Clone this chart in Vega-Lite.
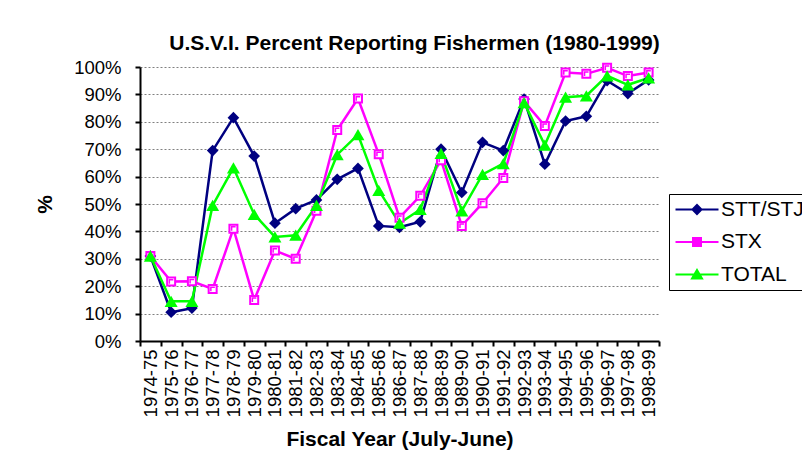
{
  "$schema": "https://vega.github.io/schema/vega-lite/v6.json",
  "width": 519,
  "height": 274,
  "autosize": {"type": "none"},
  "padding": {"left": 140, "top": 67, "right": 143, "bottom": 123},
  "background": "white",
  "config": {
    "font": "Liberation Sans",
    "view": {"stroke": null},
    "title": {"font": "Liberation Sans", "fontSize": 21, "fontWeight": "bold", "color": "black"}
  },
  "title": {"text": "U.S.V.I. Percent Reporting Fishermen (1980-1999)", "anchor": "middle", "dx": 15, "offset": 4},
  "datasets": {
    "d": [
      {"year": "1974-75", "series": "STT/STJ", "v": 0.31},
      {"year": "1975-76", "series": "STT/STJ", "v": 0.105},
      {"year": "1976-77", "series": "STT/STJ", "v": 0.12},
      {"year": "1977-78", "series": "STT/STJ", "v": 0.695},
      {"year": "1978-79", "series": "STT/STJ", "v": 0.815},
      {"year": "1979-80", "series": "STT/STJ", "v": 0.675},
      {"year": "1980-81", "series": "STT/STJ", "v": 0.43},
      {"year": "1981-82", "series": "STT/STJ", "v": 0.483},
      {"year": "1982-83", "series": "STT/STJ", "v": 0.515},
      {"year": "1983-84", "series": "STT/STJ", "v": 0.59},
      {"year": "1984-85", "series": "STT/STJ", "v": 0.63},
      {"year": "1985-86", "series": "STT/STJ", "v": 0.42},
      {"year": "1986-87", "series": "STT/STJ", "v": 0.415},
      {"year": "1987-88", "series": "STT/STJ", "v": 0.435},
      {"year": "1988-89", "series": "STT/STJ", "v": 0.70},
      {"year": "1989-90", "series": "STT/STJ", "v": 0.542},
      {"year": "1990-91", "series": "STT/STJ", "v": 0.725},
      {"year": "1991-92", "series": "STT/STJ", "v": 0.695},
      {"year": "1992-93", "series": "STT/STJ", "v": 0.883},
      {"year": "1993-94", "series": "STT/STJ", "v": 0.645},
      {"year": "1994-95", "series": "STT/STJ", "v": 0.803},
      {"year": "1995-96", "series": "STT/STJ", "v": 0.82},
      {"year": "1996-97", "series": "STT/STJ", "v": 0.95},
      {"year": "1997-98", "series": "STT/STJ", "v": 0.903},
      {"year": "1998-99", "series": "STT/STJ", "v": 0.953},
      {"year": "1974-75", "series": "STX", "v": 0.31},
      {"year": "1975-76", "series": "STX", "v": 0.217},
      {"year": "1976-77", "series": "STX", "v": 0.218},
      {"year": "1977-78", "series": "STX", "v": 0.19},
      {"year": "1978-79", "series": "STX", "v": 0.41},
      {"year": "1979-80", "series": "STX", "v": 0.15},
      {"year": "1980-81", "series": "STX", "v": 0.33},
      {"year": "1981-82", "series": "STX", "v": 0.30},
      {"year": "1982-83", "series": "STX", "v": 0.475},
      {"year": "1983-84", "series": "STX", "v": 0.77},
      {"year": "1984-85", "series": "STX", "v": 0.885},
      {"year": "1985-86", "series": "STX", "v": 0.682},
      {"year": "1986-87", "series": "STX", "v": 0.45},
      {"year": "1987-88", "series": "STX", "v": 0.53},
      {"year": "1988-89", "series": "STX", "v": 0.66},
      {"year": "1989-90", "series": "STX", "v": 0.42},
      {"year": "1990-91", "series": "STX", "v": 0.503},
      {"year": "1991-92", "series": "STX", "v": 0.595},
      {"year": "1992-93", "series": "STX", "v": 0.875},
      {"year": "1993-94", "series": "STX", "v": 0.785},
      {"year": "1994-95", "series": "STX", "v": 0.98},
      {"year": "1995-96", "series": "STX", "v": 0.975},
      {"year": "1996-97", "series": "STX", "v": 0.997},
      {"year": "1997-98", "series": "STX", "v": 0.967},
      {"year": "1998-99", "series": "STX", "v": 0.98},
      {"year": "1974-75", "series": "TOTAL", "v": 0.31},
      {"year": "1975-76", "series": "TOTAL", "v": 0.145},
      {"year": "1976-77", "series": "TOTAL", "v": 0.145},
      {"year": "1977-78", "series": "TOTAL", "v": 0.495},
      {"year": "1978-79", "series": "TOTAL", "v": 0.632},
      {"year": "1979-80", "series": "TOTAL", "v": 0.462},
      {"year": "1980-81", "series": "TOTAL", "v": 0.38},
      {"year": "1981-82", "series": "TOTAL", "v": 0.386},
      {"year": "1982-83", "series": "TOTAL", "v": 0.495},
      {"year": "1983-84", "series": "TOTAL", "v": 0.68},
      {"year": "1984-85", "series": "TOTAL", "v": 0.753},
      {"year": "1985-86", "series": "TOTAL", "v": 0.55},
      {"year": "1986-87", "series": "TOTAL", "v": 0.43},
      {"year": "1987-88", "series": "TOTAL", "v": 0.48},
      {"year": "1988-89", "series": "TOTAL", "v": 0.685},
      {"year": "1989-90", "series": "TOTAL", "v": 0.475},
      {"year": "1990-91", "series": "TOTAL", "v": 0.608},
      {"year": "1991-92", "series": "TOTAL", "v": 0.647},
      {"year": "1992-93", "series": "TOTAL", "v": 0.87},
      {"year": "1993-94", "series": "TOTAL", "v": 0.715},
      {"year": "1994-95", "series": "TOTAL", "v": 0.89},
      {"year": "1995-96", "series": "TOTAL", "v": 0.895},
      {"year": "1996-97", "series": "TOTAL", "v": 0.968},
      {"year": "1997-98", "series": "TOTAL", "v": 0.935},
      {"year": "1998-99", "series": "TOTAL", "v": 0.96}
    ]
  },
  "data": {"name": "d"},
  "encoding": {
    "x": {
      "field": "year", "type": "ordinal", "bandPosition": 0.5,
      "scale": {"type": "band", "paddingInner": 0, "paddingOuter": 0},
      "axis": {
        "title": "Fiscal Year (July-June)", "titleFontSize": 21, "titleFontWeight": "bold", "titleColor": "black", "titlePadding": 12,
        "labelAngle": 270, "labelFontSize": 18.5, "labelColor": "black", "labelPadding": 3,
        "domainColor": "black", "domainWidth": 2, "tickColor": "black", "tickWidth": 2, "tickSize": 5,
        "tickBand": "extent", "grid": false, "labelOverlap": false
      }
    },
    "y": {
      "field": "v", "type": "quantitative",
      "scale": {"domain": [0, 1], "nice": false},
      "axis": {
        "values": [0, 0.1, 0.2, 0.3, 0.4, 0.5, 0.6, 0.7, 0.8, 0.9, 1.0], "format": ".0%",
        "title": "%", "titleFontSize": 21, "titleFontWeight": "bold", "titleColor": "black", "titlePadding": 18,
        "labelFontSize": 18.5, "labelColor": "black", "labelPadding": 14,
        "domainColor": "black", "domainWidth": 2, "tickColor": "black", "tickWidth": 2, "tickSize": 5,
        "grid": true, "gridColor": "#808080", "gridDash": [2, 2], "gridWidth": 1
      }
    }
  },
  "layer": [
    {
      "transform": [{"filter": "datum.series == 'STT/STJ'"}],
      "mark": {"type": "line", "strokeWidth": 2.5, "color": "#000080"}
    },
    {
      "transform": [{"filter": "datum.series == 'STX'"}],
      "mark": {"type": "line", "strokeWidth": 2.5, "color": "#FF00FF"}
    },
    {
      "transform": [{"filter": "datum.series == 'TOTAL'"}],
      "mark": {"type": "line", "strokeWidth": 2.5, "color": "#00FF00"}
    },
    {
      "transform": [{"filter": "datum.series == 'STT/STJ'"}],
      "mark": {"type": "point", "shape": "diamond", "filled": true, "size": 137, "color": "#000080", "opacity": 1}
    },
    {
      "transform": [{"filter": "datum.series == 'STX'"}],
      "mark": {"type": "point", "shape": "square", "filled": false, "size": 64, "fill": "white", "stroke": "#FF00FF", "strokeWidth": 2, "opacity": 1, "fillOpacity": 1}
    },
    {
      "transform": [{"filter": "datum.series == 'STX'"}],
      "mark": {"type": "point", "shape": "M-0.45,0.55V-0.45H0.55", "filled": false, "size": 64, "stroke": "#FF00FF", "strokeWidth": 1.5, "opacity": 1}
    },
    {
      "transform": [{"filter": "datum.series == 'TOTAL'"}],
      "mark": {"type": "point", "shape": "triangle-up", "filled": true, "size": 169, "color": "#00FF00", "opacity": 1}
    },
    {
      "mark": {"type": "point", "filled": true, "opacity": 0},
      "encoding": {
        "fill": {"field": "series", "type": "nominal",
          "scale": {"domain": ["STT/STJ", "STX", "TOTAL"], "range": ["#000080", "#FF00FF", "#00FF00"]},
          "legend": {"orient": "none", "legendX": 529, "legendY": 127, "title": null, "strokeColor": "black", "padding": 5,
            "labelFontSize": 21, "labelColor": "black", "labelFont": "Liberation Sans", "symbolSize": 100, "symbolStrokeWidth": 2,
            "symbolOffset": 12.5, "labelOffset": 13.5, "rowPadding": 10.5, "symbolOpacity": 1}},
        "stroke": {"field": "series", "type": "nominal",
          "scale": {"domain": ["STT/STJ", "STX", "TOTAL"], "range": ["#000080", "#FF00FF", "#00FF00"]},
          "legend": {"orient": "none", "legendX": 529, "legendY": 127, "title": null, "strokeColor": "black", "padding": 5,
            "labelFontSize": 21, "labelColor": "black", "labelFont": "Liberation Sans", "symbolSize": 100, "symbolStrokeWidth": 2,
            "symbolOffset": 12.5, "labelOffset": 13.5, "rowPadding": 10.5, "symbolOpacity": 1}},
        "shape": {"field": "series", "type": "nominal",
          "scale": {"domain": ["STT/STJ", "STX", "TOTAL"], "range": [
            "M-4.3,0H4.3M0,-0.9L0.9,0L0,0.9L-0.9,0Z",
            "M-4.3,0H4.3M-0.8,-0.8H0.8V0.8H-0.8Z",
            "M-4.3,0H4.3M0,-0.9L1,0.8L-1,0.8Z"]},
          "legend": {"orient": "none", "legendX": 529, "legendY": 127, "title": null, "strokeColor": "black", "padding": 5,
            "labelFontSize": 21, "labelColor": "black", "labelFont": "Liberation Sans", "symbolSize": 100, "symbolStrokeWidth": 2,
            "symbolOffset": 12.5, "labelOffset": 13.5, "rowPadding": 10.5, "symbolOpacity": 1}}
      }
    }
  ]
}
